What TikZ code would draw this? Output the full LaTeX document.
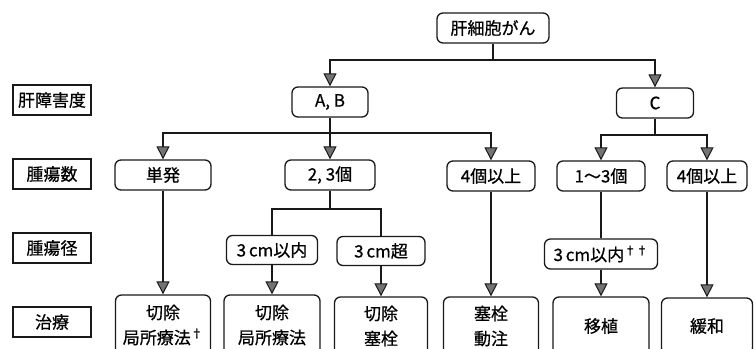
\documentclass[tikz,border=0pt]{standalone}
\usepackage{fontspec}
\setmainfont{Noto Sans CJK JP}[FakeBold=0.7]
\usetikzlibrary{arrows.meta}
\tikzset{
  rbox/.style={draw=black!90, line width=1.3pt, rounded corners=6pt, inner sep=0pt, align=center, font=\fontsize{17}{25}\selectfont, minimum height=30pt},
  lbox/.style={draw=black!90, line width=1.1pt, inner sep=0pt, minimum width=78pt, minimum height=30pt, font=\fontsize{17}{20}\selectfont},
  conn/.style={draw=black!90, line width=2.8pt},
  arr/.style={conn, -{Triangle[width=13pt,length=13pt,line width=1pt,fill=black!55]}},
}
\begin{document}
\begin{tikzpicture}[x=1pt,y=-1pt]
\useasboundingbox[fill=white] (0,0) rectangle (754,348);
% left labels
\node[lbox] (L1) at (52,100) {肝障害度};
\node[lbox] (L2) at (52,174) {腫瘍数};
\node[lbox] (L3) at (52,248) {腫瘍径};
\node[lbox] (L4) at (52,322) {治療};
% top
\node[rbox, minimum width=112pt] (top) at (493,28) {肝細胞がん};
\node[rbox, minimum width=76pt] (ab) at (330,102) {A, B};
\node[rbox, minimum width=77pt] (c) at (655,103) {C};
% tumor count
\node[rbox, minimum width=96pt] (s1) at (163,175) {単発};
\node[rbox, minimum width=90pt] (s23) at (330,175) {2, 3個};
\node[rbox, minimum width=88pt] (s4a) at (491,176) {4個以上};
\node[rbox, minimum width=88pt] (s13) at (601,176) {1〜3個};
\node[rbox, minimum width=80pt] (s4b) at (707,176) {4個以上};
% tumor size
\node[rbox, minimum width=91pt, minimum height=29pt] (d1) at (272,250) {3\,cm以内};
\node[rbox, minimum width=88pt, minimum height=29pt] (d2) at (381,251) {3\,cm超};
\node[rbox, minimum width=113pt] (d3) at (601,254) {3\,cm以内\textsuperscript{††}};
% treatment
\node[rbox, minimum width=95pt, minimum height=60pt] (t1) at (163,325) {切除\\局所療法\textsuperscript{†}};
\node[rbox, minimum width=96pt, minimum height=60pt] (t2) at (272,325) {切除\\局所療法};
\node[rbox, minimum width=93pt, minimum height=58pt] (t3) at (381,326) {切除\\塞栓};
\node[rbox, minimum width=95pt, minimum height=58pt] (t4) at (491,326) {塞栓\\動注};
\node[rbox, minimum width=96pt, minimum height=58pt] (t5) at (601,326) {移植};
\node[rbox, minimum width=91pt, minimum height=56pt] (t6) at (707,326) {緩和};
% junctions
\coordinate (j1) at (493,60);
\coordinate (j2) at (330,133);
\coordinate (j3) at (655,135);
\coordinate (j4) at (330,209);
% connectors
\draw[conn] (top.south) -- (j1);
\draw[arr] (j1) -| (ab.north);
\draw[arr] (j1) -| (c.north);
\draw[conn] (ab.south) -- (j2);
\draw[arr] (j2) -| (s1.north);
\draw[arr] (j2) -- (s23.north);
\draw[arr] (j2) -| (s4a.north);
\draw[conn] (c.south) -- (j3);
\draw[arr] (j3) -| (s13.north);
\draw[arr] (j3) -| (s4b.north);
\draw[conn] (s23.south) -- (j4);
\draw[conn] (j4) -| (d1.north);
\draw[conn] (j4) -| (d2.north);
\draw[conn] (s13.south) -- (d3.north);
\draw[arr] (s1.south) -- (t1.north);
\draw[arr] (d1.south) -- (t2.north);
\draw[arr] (d2.south) -- (t3.north);
\draw[arr] (s4a.south) -- (t4.north);
\draw[arr] (d3.south) -- (t5.north);
\draw[arr] (s4b.south) -- (t6.north);
\end{tikzpicture}
\end{document}
